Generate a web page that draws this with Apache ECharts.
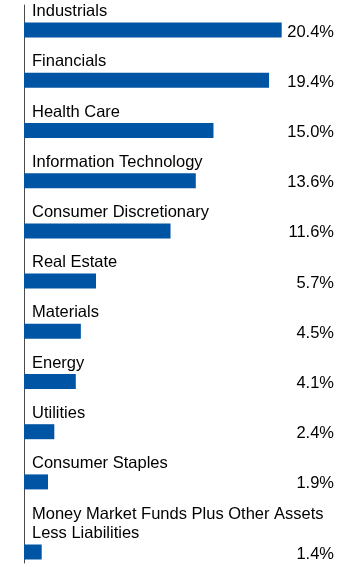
<!DOCTYPE html>
<html>
<head>
<meta charset="utf-8">
<style>
html,body{margin:0;padding:0;background:#fff;}
#chart{width:360px;height:567px;}
</style>
<script src="https://cdn.jsdelivr.net/npm/echarts@6/dist/echarts.min.js"></script>
</head>
<body>
<div id="chart"></div>
<script>
var categories = ["Industrials","Financials","Health Care","Information Technology","Consumer Discretionary","Real Estate","Materials","Energy","Utilities","Consumer Staples"];
var values = [20.4,19.4,15.0,13.6,11.6,5.7,4.5,4.1,2.4,1.9];
var lastCategories = ["Money Market Funds Plus Other Assets Less Liabilities"];
var lastValues = [1.4];

var FONT = '"Liberation Sans", Arial, sans-serif';
var BAR = '#0054a4';
var chart = echarts.init(document.getElementById('chart'), null, {renderer:'canvas'});

function yCat(data){
  return {
    type:'category', data:data, inverse:true,
    axisLine:{show:false}, axisTick:{show:false},
    axisLabel:{
      inside:true, margin:8, interval:0,
      verticalAlign:'bottom', align:'left',
      padding:[0,0,9,0],
      fontFamily:FONT, fontSize:16.5, lineHeight:19, color:'#000',
      width:305, overflow:'break'
    }
  };
}
function xVal(){
  return {type:'value', min:0, max:26.6, show:false};
}
function barSeries(xi, data){
  return {
    type:'bar', xAxisIndex:xi, yAxisIndex:xi, data:data,
    barWidth:15, itemStyle:{color:BAR}, silent:true,
    label:{
      show:true, formatter:function(p){return p.value.toFixed(1)+'%';},
      fontFamily:FONT, fontSize:16.5, color:'#000'
    },
    labelLayout:function(p){
      return {x:334, y:p.rect.y + p.rect.height/2 + 2, align:'right', verticalAlign:'middle'};
    }
  };
}

chart.setOption({
  animation:false,
  grid:[
    {left:24, width:336, top:5, height:502},
    {left:24, width:336, top:541, height:22},
    {left:24, width:336, top:5, height:558}
  ],
  xAxis:[
    Object.assign(xVal(),{gridIndex:0}),
    Object.assign(xVal(),{gridIndex:1}),
    {gridIndex:2, type:'value', show:false}
  ],
  yAxis:[
    Object.assign(yCat(categories),{gridIndex:0}),
    Object.assign(yCat(lastCategories),{gridIndex:1}),
    {gridIndex:2, type:'value', min:0, max:1,
     axisLine:{show:true, lineStyle:{color:'#4a4a4a', width:1}},
     axisTick:{show:false}, axisLabel:{show:false}, splitLine:{show:false}}
  ],
  series:[ barSeries(0, values), barSeries(1, lastValues) ]
});
</script>
</body>
</html>
